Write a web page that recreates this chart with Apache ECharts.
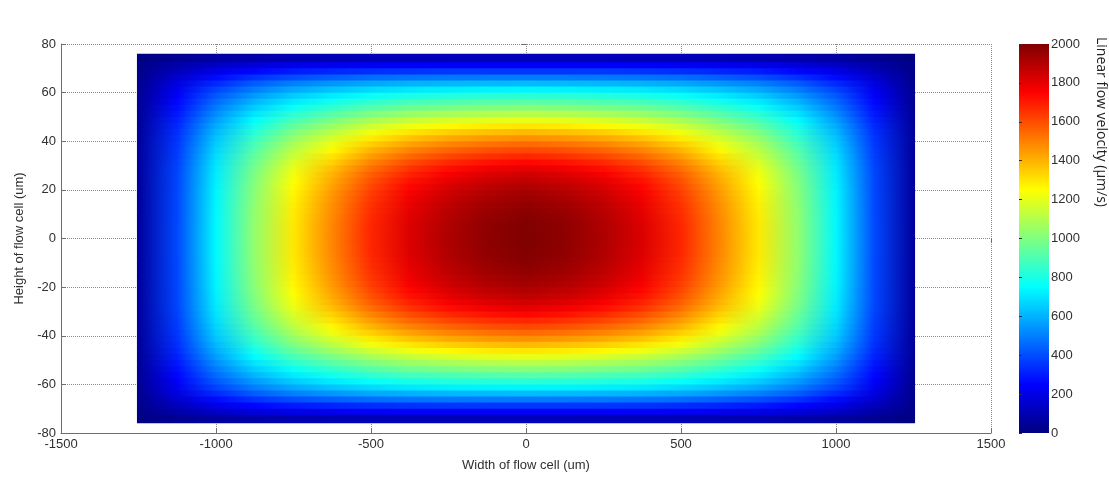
<!DOCTYPE html>
<html>
<head>
<meta charset="UTF-8">
<title>Linear flow velocity in flow cell</title>
<script src="https://cdn.jsdelivr.net/npm/echarts@6/dist/echarts.min.js"></script>
<style>html,body{margin:0;background:#fff;}</style>
</head>
<body>
<div id="flowCell" style="width:1109px;height:479px;"></div>
<script>
// node positions across the width of the cell (um)
var widthNodes = [-1250, -1125, -1000, -875, -750, -625, -500, -375, -250, -125, 0,
                  125, 250, 375, 500, 625, 750, 875, 1000, 1125, 1250];
// row centres over the height of the cell (um), top to bottom
var heightNodes = [73.75, 71.25, 68.75, 66.25, 63.75, 61.25, 58.75, 56.25, 53.75, 51.25,
                   48.75, 46.25, 43.75, 41.25, 38.75, 36.25, 33.75, 31.25, 28.75, 26.25,
                   23.75, 21.25, 18.75, 16.25, 13.75, 11.25, 8.75, 6.25, 3.75, 1.25,
                   -1.25, -3.75, -6.25, -8.75, -11.25, -13.75, -16.25, -18.75, -21.25, -23.75,
                   -26.25, -28.75, -31.25, -33.75, -36.25, -38.75, -41.25, -43.75, -46.25, -48.75,
                   -51.25, -53.75, -56.25, -58.75, -61.25, -63.75, -66.25, -68.75, -71.25, -73.75];
// walls of the cell (um)
var cellHalfWidth = 1255;
var cellHalfHeight = 76;

// linear flow velocity (um/s), one row per heightNodes entry, one column per widthNodes entry
var velocity = [
  [6, 37, 65, 83, 95, 102, 106, 109, 109, 110, 110, 110, 109, 109, 106, 102, 95, 83, 65, 37, 6],
  [13, 80, 138, 178, 204, 219, 230, 235, 238, 239, 240, 239, 238, 235, 230, 219, 204, 178, 138, 80, 13],
  [19, 115, 200, 258, 298, 321, 338, 348, 353, 355, 356, 355, 353, 348, 338, 321, 298, 258, 200, 115, 19],
  [25, 154, 267, 347, 403, 435, 462, 478, 484, 488, 490, 488, 484, 478, 462, 435, 403, 347, 267, 154, 25],
  [31, 188, 329, 429, 500, 543, 578, 599, 610, 617, 620, 617, 610, 599, 578, 543, 500, 429, 329, 188, 31],
  [36, 216, 379, 497, 580, 633, 677, 704, 719, 728, 732, 728, 719, 704, 677, 633, 580, 497, 379, 216, 36],
  [39, 238, 421, 554, 650, 712, 764, 797, 816, 827, 832, 827, 816, 797, 764, 712, 650, 554, 421, 238, 39],
  [42, 259, 459, 606, 713, 784, 845, 884, 905, 919, 926, 919, 905, 884, 845, 784, 713, 606, 459, 259, 42],
  [45, 276, 493, 653, 772, 852, 920, 966, 991, 1008, 1016, 1008, 991, 966, 920, 852, 772, 653, 493, 276, 45],
  [48, 293, 526, 700, 832, 921, 998, 1050, 1081, 1100, 1110, 1100, 1081, 1050, 998, 921, 832, 700, 526, 293, 48],
  [50, 311, 559, 747, 892, 991, 1079, 1138, 1175, 1197, 1208, 1197, 1175, 1138, 1079, 991, 892, 747, 559, 311, 50],
  [52, 326, 587, 790, 946, 1056, 1153, 1220, 1262, 1288, 1300, 1288, 1262, 1220, 1153, 1056, 946, 790, 587, 326, 52],
  [54, 338, 613, 828, 996, 1115, 1223, 1298, 1344, 1373, 1388, 1373, 1344, 1298, 1223, 1115, 996, 828, 613, 338, 54],
  [55, 348, 635, 861, 1042, 1169, 1287, 1370, 1421, 1454, 1470, 1454, 1421, 1370, 1287, 1169, 1042, 861, 635, 348, 55],
  [57, 356, 653, 891, 1081, 1217, 1344, 1434, 1490, 1526, 1544, 1526, 1490, 1434, 1344, 1217, 1081, 891, 653, 356, 57],
  [57, 364, 670, 917, 1117, 1261, 1398, 1495, 1554, 1595, 1614, 1595, 1554, 1495, 1398, 1261, 1117, 917, 670, 364, 57],
  [58, 370, 685, 941, 1150, 1303, 1447, 1551, 1616, 1659, 1680, 1659, 1616, 1551, 1447, 1303, 1150, 941, 685, 370, 58],
  [59, 375, 697, 961, 1180, 1339, 1492, 1602, 1672, 1717, 1740, 1717, 1672, 1602, 1492, 1339, 1180, 961, 697, 375, 59],
  [59, 380, 707, 980, 1206, 1375, 1534, 1651, 1725, 1774, 1798, 1774, 1725, 1651, 1534, 1375, 1206, 980, 707, 380, 59],
  [59, 382, 715, 994, 1226, 1399, 1566, 1686, 1763, 1814, 1840, 1814, 1763, 1686, 1566, 1399, 1226, 994, 715, 382, 59],
  [60, 384, 721, 1005, 1243, 1420, 1592, 1717, 1797, 1850, 1876, 1850, 1797, 1717, 1592, 1420, 1243, 1005, 721, 384, 60],
  [60, 385, 725, 1013, 1255, 1435, 1611, 1740, 1822, 1876, 1904, 1876, 1822, 1740, 1611, 1435, 1255, 1013, 725, 385, 60],
  [60, 387, 730, 1021, 1266, 1451, 1630, 1762, 1846, 1902, 1930, 1902, 1846, 1762, 1630, 1451, 1266, 1021, 730, 387, 60],
  [60, 388, 733, 1026, 1274, 1461, 1643, 1777, 1862, 1920, 1948, 1920, 1862, 1777, 1643, 1461, 1274, 1026, 733, 388, 60],
  [60, 389, 735, 1030, 1281, 1470, 1655, 1790, 1878, 1936, 1964, 1936, 1878, 1790, 1655, 1470, 1281, 1030, 735, 389, 60],
  [60, 389, 737, 1034, 1285, 1477, 1663, 1800, 1888, 1946, 1976, 1946, 1888, 1800, 1663, 1477, 1285, 1034, 737, 389, 60],
  [60, 389, 738, 1036, 1290, 1483, 1670, 1807, 1897, 1956, 1986, 1956, 1897, 1807, 1670, 1483, 1290, 1036, 738, 389, 60],
  [60, 390, 739, 1037, 1293, 1486, 1675, 1815, 1904, 1964, 1994, 1964, 1904, 1815, 1675, 1486, 1293, 1037, 739, 390, 60],
  [60, 390, 739, 1039, 1295, 1489, 1678, 1818, 1908, 1968, 1998, 1968, 1908, 1818, 1678, 1489, 1295, 1039, 739, 390, 60],
  [60, 390, 740, 1040, 1296, 1490, 1680, 1820, 1910, 1970, 2000, 1970, 1910, 1820, 1680, 1490, 1296, 1040, 740, 390, 60],
  [60, 390, 740, 1040, 1296, 1490, 1680, 1820, 1910, 1970, 2000, 1970, 1910, 1820, 1680, 1490, 1296, 1040, 740, 390, 60],
  [60, 390, 739, 1039, 1295, 1489, 1678, 1818, 1908, 1968, 1998, 1968, 1908, 1818, 1678, 1489, 1295, 1039, 739, 390, 60],
  [60, 390, 739, 1037, 1293, 1486, 1675, 1815, 1904, 1964, 1994, 1964, 1904, 1815, 1675, 1486, 1293, 1037, 739, 390, 60],
  [60, 389, 738, 1036, 1290, 1483, 1670, 1807, 1897, 1956, 1986, 1956, 1897, 1807, 1670, 1483, 1290, 1036, 738, 389, 60],
  [60, 389, 737, 1034, 1285, 1477, 1663, 1800, 1888, 1946, 1976, 1946, 1888, 1800, 1663, 1477, 1285, 1034, 737, 389, 60],
  [60, 389, 735, 1030, 1281, 1470, 1655, 1790, 1878, 1936, 1964, 1936, 1878, 1790, 1655, 1470, 1281, 1030, 735, 389, 60],
  [60, 388, 733, 1026, 1274, 1461, 1643, 1777, 1862, 1920, 1948, 1920, 1862, 1777, 1643, 1461, 1274, 1026, 733, 388, 60],
  [60, 387, 730, 1021, 1266, 1451, 1630, 1762, 1846, 1902, 1930, 1902, 1846, 1762, 1630, 1451, 1266, 1021, 730, 387, 60],
  [60, 385, 725, 1013, 1255, 1435, 1611, 1740, 1822, 1876, 1904, 1876, 1822, 1740, 1611, 1435, 1255, 1013, 725, 385, 60],
  [60, 384, 721, 1005, 1243, 1420, 1592, 1717, 1797, 1850, 1876, 1850, 1797, 1717, 1592, 1420, 1243, 1005, 721, 384, 60],
  [59, 382, 715, 994, 1226, 1399, 1566, 1686, 1763, 1814, 1840, 1814, 1763, 1686, 1566, 1399, 1226, 994, 715, 382, 59],
  [59, 380, 707, 980, 1206, 1375, 1534, 1651, 1725, 1774, 1798, 1774, 1725, 1651, 1534, 1375, 1206, 980, 707, 380, 59],
  [59, 375, 697, 961, 1180, 1339, 1492, 1602, 1672, 1717, 1740, 1717, 1672, 1602, 1492, 1339, 1180, 961, 697, 375, 59],
  [58, 370, 685, 941, 1150, 1303, 1447, 1551, 1616, 1659, 1680, 1659, 1616, 1551, 1447, 1303, 1150, 941, 685, 370, 58],
  [57, 364, 670, 917, 1117, 1261, 1398, 1495, 1554, 1595, 1614, 1595, 1554, 1495, 1398, 1261, 1117, 917, 670, 364, 57],
  [57, 356, 653, 891, 1081, 1217, 1344, 1434, 1490, 1526, 1544, 1526, 1490, 1434, 1344, 1217, 1081, 891, 653, 356, 57],
  [55, 348, 635, 861, 1042, 1169, 1287, 1370, 1421, 1454, 1470, 1454, 1421, 1370, 1287, 1169, 1042, 861, 635, 348, 55],
  [54, 338, 613, 828, 996, 1115, 1223, 1298, 1344, 1373, 1388, 1373, 1344, 1298, 1223, 1115, 996, 828, 613, 338, 54],
  [52, 326, 587, 790, 946, 1056, 1153, 1220, 1262, 1288, 1300, 1288, 1262, 1220, 1153, 1056, 946, 790, 587, 326, 52],
  [50, 311, 559, 747, 892, 991, 1079, 1138, 1175, 1197, 1208, 1197, 1175, 1138, 1079, 991, 892, 747, 559, 311, 50],
  [48, 293, 526, 700, 832, 921, 998, 1050, 1081, 1100, 1110, 1100, 1081, 1050, 998, 921, 832, 700, 526, 293, 48],
  [45, 276, 493, 653, 772, 852, 920, 966, 991, 1008, 1016, 1008, 991, 966, 920, 852, 772, 653, 493, 276, 45],
  [42, 259, 459, 606, 713, 784, 845, 884, 905, 919, 926, 919, 905, 884, 845, 784, 713, 606, 459, 259, 42],
  [39, 238, 421, 554, 650, 712, 764, 797, 816, 827, 832, 827, 816, 797, 764, 712, 650, 554, 421, 238, 39],
  [36, 216, 379, 497, 580, 633, 677, 704, 719, 728, 732, 728, 719, 704, 677, 633, 580, 497, 379, 216, 36],
  [31, 188, 329, 429, 500, 543, 578, 599, 610, 617, 620, 617, 610, 599, 578, 543, 500, 429, 329, 188, 31],
  [25, 154, 267, 347, 403, 435, 462, 478, 484, 488, 490, 488, 484, 478, 462, 435, 403, 347, 267, 154, 25],
  [19, 115, 200, 258, 298, 321, 338, 348, 353, 355, 356, 355, 353, 348, 338, 321, 298, 258, 200, 115, 19],
  [13, 80, 138, 178, 204, 219, 230, 235, 238, 239, 240, 239, 238, 235, 230, 219, 204, 178, 138, 80, 13],
  [6, 37, 65, 83, 95, 102, 106, 109, 109, 110, 110, 110, 109, 109, 106, 102, 95, 83, 65, 37, 6]
];

// colour scale range (um/s)
var velocityMin = 0;
var velocityMax = 2000;

// jet colormap, evenly spaced stops
var jetColors = [[0, 0, 128], [0, 0, 255], [0, 128, 255], [0, 255, 255], [128, 255, 128],
                 [255, 255, 0], [255, 128, 0], [255, 0, 0], [128, 0, 0]];

function jet(v) {
    var t = (v - velocityMin) / (velocityMax - velocityMin);
    t = Math.max(0, Math.min(1, t)) * (jetColors.length - 1);
    var i = Math.min(Math.floor(t), jetColors.length - 2);
    var f = t - i;
    var a = jetColors[i], b = jetColors[i + 1];
    return 'rgb(' + Math.round(a[0] + (b[0] - a[0]) * f) + ',' +
        Math.round(a[1] + (b[1] - a[1]) * f) + ',' +
        Math.round(a[2] + (b[2] - a[2]) * f) + ')';
}

function rowEdge(i) {
    if (i <= 0) return cellHalfHeight;
    if (i >= heightNodes.length) return -cellHalfHeight;
    return (heightNodes[i - 1] + heightNodes[i]) / 2;
}

// one strip per row, coloured along the width
function renderRow(params, api) {
    var i = api.value(0);
    var p1 = api.coord([-cellHalfWidth, rowEdge(i)]);
    var p2 = api.coord([cellHalfWidth, rowEdge(i + 1)]);
    var stops = widthNodes.map(function (x, j) {
        return { offset: (x + cellHalfWidth) / (2 * cellHalfWidth), color: jet(velocity[i][j]) };
    });
    var extra = i < heightNodes.length - 1 ? 1 : 0;
    return {
        type: 'rect',
        shape: { x: p1[0], y: p1[1], width: p2[0] - p1[0], height: p2[1] - p1[1] + extra },
        style: { fill: new echarts.graphic.LinearGradient(0, 0, 1, 0, stops) }
    };
}

function renderColorbar(params, api) {
    var p1 = api.coord([0, velocityMax]);
    var p2 = api.coord([1, velocityMin]);
    var stops = jetColors.map(function (c, k) {
        return { offset: 1 - k / (jetColors.length - 1), color: 'rgb(' + c.join(',') + ')' };
    });
    return {
        type: 'rect',
        shape: { x: p1[0], y: p1[1], width: p2[0] - p1[0], height: p2[1] - p1[1] },
        style: { fill: new echarts.graphic.LinearGradient(0, 0, 0, 1, stops) }
    };
}

function plain(v) { return String(v); }

var font = 'Liberation Sans, Arial, sans-serif';
var axisGrey = '#6e6e6e';
var labelStyle = { color: '#303030', fontSize: 13, fontFamily: font, formatter: plain };

var myChart = echarts.init(document.getElementById('flowCell'));

var option = {
    backgroundColor: '#ffffff',
    animation: false,
    grid: [
        { left: 61, top: 44, width: 930, height: 389 },
        { left: 1019, top: 44, width: 30, height: 389 }
    ],
    xAxis: [
        {
            type: 'value', gridIndex: 0, min: -1500, max: 1500, interval: 500, position: 'bottom',
            axisLine: { onZero: false, lineStyle: { color: axisGrey } },
            axisTick: { inside: true, length: 5, lineStyle: { color: axisGrey } },
            axisLabel: Object.assign({ margin: 5 }, labelStyle),
            splitLine: { show: true, lineStyle: { type: 'dotted', color: '#8a8a8a' } },
            name: 'Width of flow cell (um)', nameLocation: 'middle', nameGap: 26,
            nameTextStyle: { color: '#303030', fontSize: 13, fontFamily: font }
        },
        {
            type: 'value', gridIndex: 0, min: -1500, max: 1500, interval: 500, position: 'top',
            axisLine: { show: false },
            axisTick: { inside: true, length: 4, lineStyle: { color: axisGrey } },
            axisLabel: { show: false }, splitLine: { show: false }
        },
        { type: 'value', gridIndex: 1, min: 0, max: 1, show: false }
    ],
    yAxis: [
        {
            type: 'value', gridIndex: 0, min: -80, max: 80, interval: 20, position: 'left',
            axisLine: { onZero: false, lineStyle: { color: axisGrey } },
            axisTick: { inside: true, length: 5, lineStyle: { color: axisGrey } },
            axisLabel: Object.assign({ margin: 5 }, labelStyle),
            splitLine: { show: true, lineStyle: { type: 'dotted', color: '#8a8a8a' } },
            name: 'Height of flow cell (um)', nameLocation: 'middle', nameGap: 34,
            nameTextStyle: { color: '#303030', fontSize: 13, fontFamily: font }
        },
        {
            type: 'value', gridIndex: 0, min: -80, max: 80, interval: 20, position: 'right',
            axisLine: { show: false },
            axisTick: { inside: true, length: 4, lineStyle: { color: axisGrey } },
            axisLabel: { show: false }, splitLine: { show: false }
        },
        {
            type: 'value', gridIndex: 1, min: velocityMin, max: velocityMax, interval: 200, position: 'right',
            z: 10,
            axisLine: { show: false },
            axisTick: { show: true, inside: false, length: 3, lineStyle: { color: '#303030' } },
            axisLabel: Object.assign({ margin: 2 }, labelStyle),
            splitLine: { show: false }
        }
    ],
    series: [
        {
            type: 'custom', xAxisIndex: 0, yAxisIndex: 0,
            renderItem: renderRow,
            data: heightNodes.map(function (y, i) { return [i]; }),
            silent: true
        },
        {
            type: 'custom', xAxisIndex: 2, yAxisIndex: 2,
            renderItem: renderColorbar,
            data: [[0]],
            silent: true,
            z: 1
        }
    ],
    graphic: [
        {
            type: 'text', x: 1101, y: 37, rotation: -Math.PI / 2,
            style: {
                text: 'Linear flow velocity (\u03bcm/s)', fill: '#222',
                font: '14px "Open Sans", sans-serif',
                textAlign: 'left', textVerticalAlign: 'middle'
            }
        }
    ]
};

myChart.setOption(option);
</script>
</body>
</html>
